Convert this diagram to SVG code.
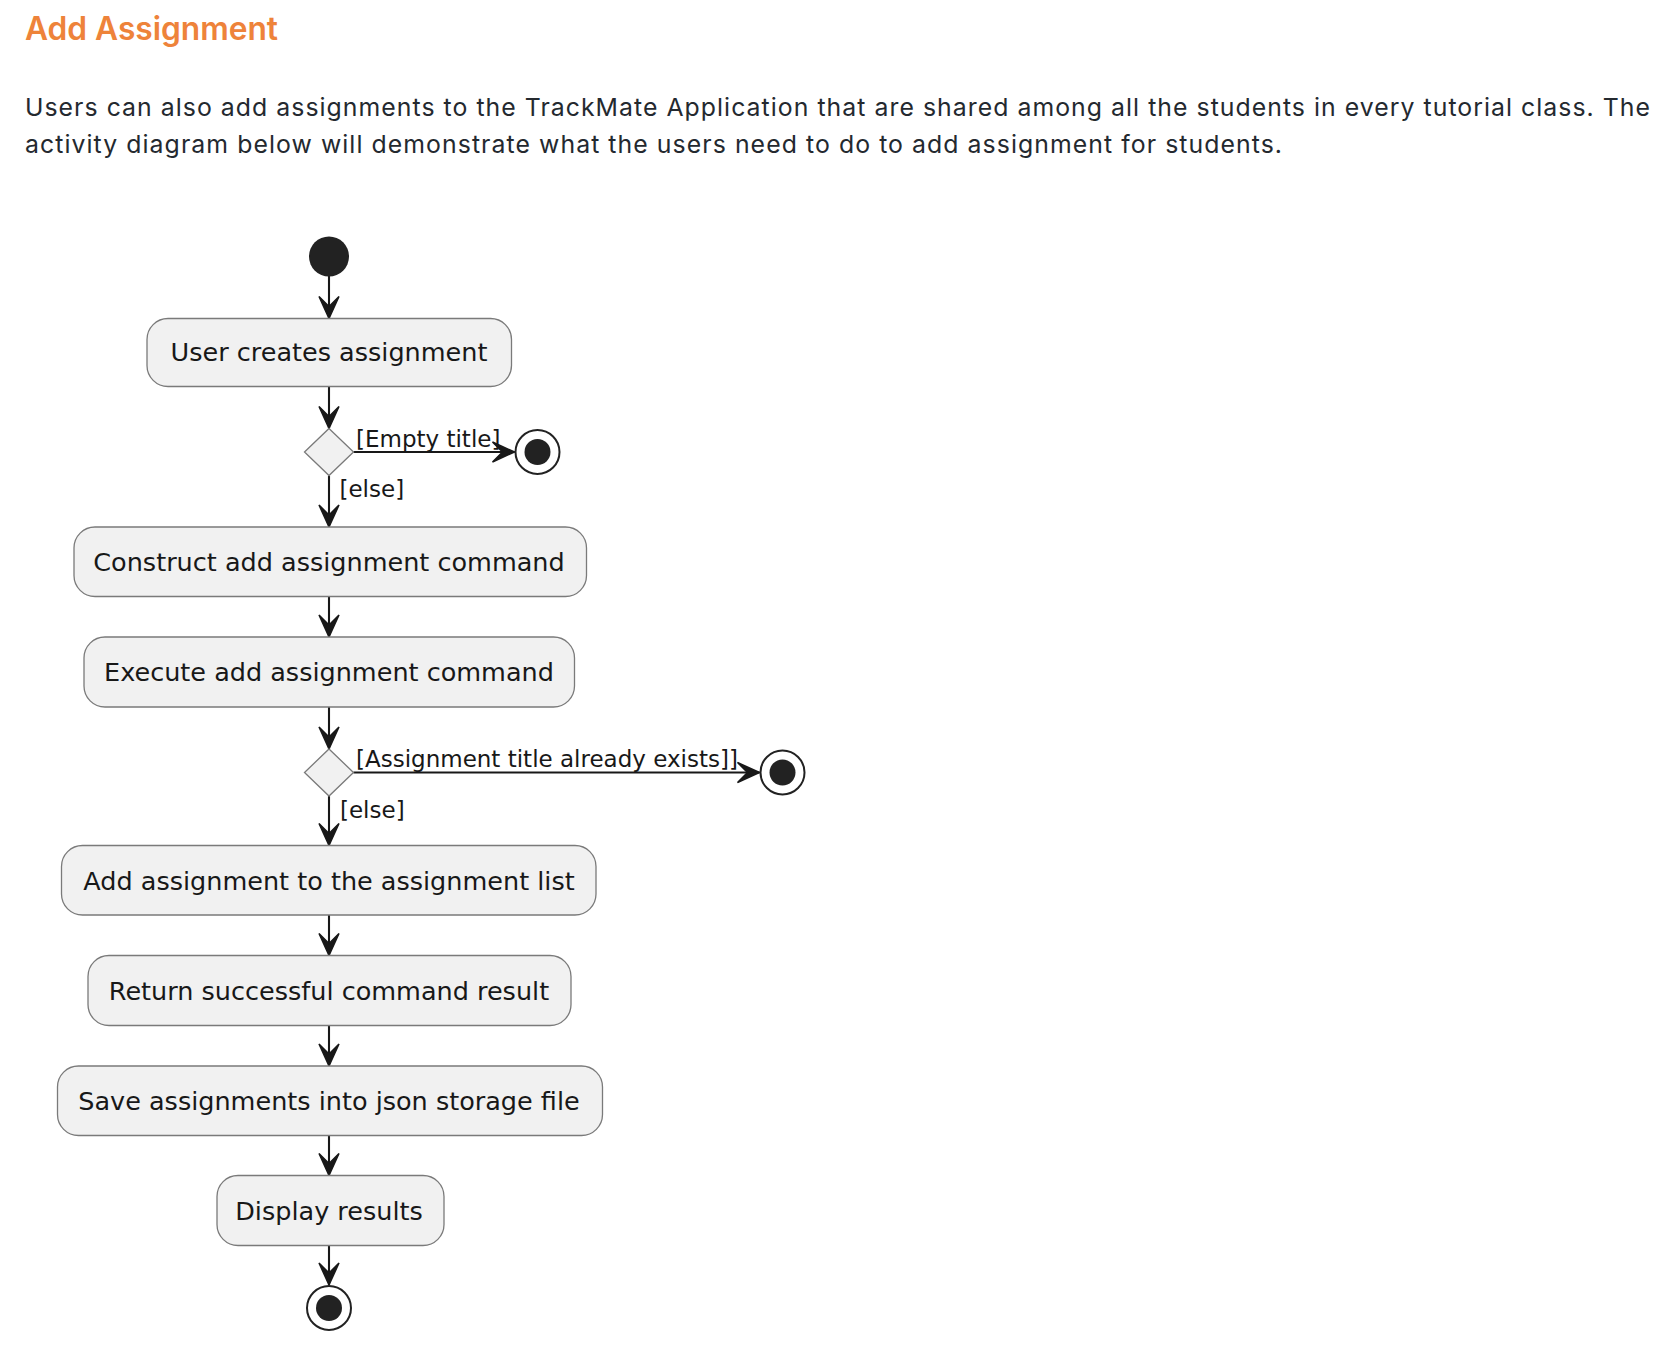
<svg xmlns="http://www.w3.org/2000/svg" width="1678" height="1352" viewBox="0 0 1678 1352">
<style>
.title{font-family:Inter,"Liberation Sans",sans-serif;font-weight:600;font-size:32px;fill:#EE833A}
.body{font-family:Inter,"Liberation Sans",sans-serif;font-size:24.8px;fill:#24292F}
.act{fill:#F1F1F1;stroke:#7A7A7A;stroke-width:1.3}
.atext{font-family:"DejaVu Sans",sans-serif;font-size:25.5px;fill:#181818;text-anchor:middle}
.lbl{font-family:"DejaVu Sans",sans-serif;font-size:23px;fill:#181818}
.line{stroke:#181818;stroke-width:2.1;fill:none}
.dia{fill:#F1F1F1;stroke:#7A7A7A;stroke-width:1.3}
</style>
<defs>
<marker id="ah" viewBox="-25 -13 28 26" markerWidth="28" markerHeight="26" refX="0" refY="0" orient="auto" markerUnits="userSpaceOnUse">
<polygon points="0,0 -22,-10 -12,0 -22,10" fill="#181818" stroke="#181818" stroke-width="1.5" stroke-linejoin="miter"/>
</marker>
</defs>
<rect width="1678" height="1352" fill="#FFFFFF"/>
<text class="title" x="25" y="40" textLength="253" lengthAdjust="spacingAndGlyphs">Add Assignment</text>
<text class="body" x="25" y="116" textLength="1625" lengthAdjust="spacing">Users can also add assignments to the TrackMate Application that are shared among all the students in every tutorial class. The</text>
<text class="body" x="25" y="153" textLength="1257" lengthAdjust="spacing">activity diagram below will demonstrate what the users need to do to add assignment for students.</text>

<g id="connectors">
<line class="line" x1="329" y1="276" x2="329" y2="318.5" marker-end="url(#ah)"/>
<line class="line" x1="329" y1="386.5" x2="329" y2="428.5" marker-end="url(#ah)"/>
<line class="line" x1="353.5" y1="452" x2="514.5" y2="452" marker-end="url(#ah)"/>
<text class="lbl" x="356" y="446.5">[Empty title]</text>
<line class="line" x1="329" y1="475.5" x2="329" y2="527" marker-end="url(#ah)"/>
<text class="lbl" x="339.5" y="497">[else]</text>
<line class="line" x1="329" y1="596.5" x2="329" y2="637" marker-end="url(#ah)"/>
<line class="line" x1="329" y1="707" x2="329" y2="749" marker-end="url(#ah)"/>
<line class="line" x1="353.5" y1="772.5" x2="759.5" y2="772.5" marker-end="url(#ah)"/>
<text class="lbl" x="356" y="767">[Assignment title already exists]]</text>
<line class="line" x1="329" y1="796" x2="329" y2="845.5" marker-end="url(#ah)"/>
<text class="lbl" x="340" y="818">[else]</text>
<line class="line" x1="329" y1="915" x2="329" y2="955.5" marker-end="url(#ah)"/>
<line class="line" x1="329" y1="1025.5" x2="329" y2="1066" marker-end="url(#ah)"/>
<line class="line" x1="329" y1="1135.5" x2="329" y2="1175.5" marker-end="url(#ah)"/>
<line class="line" x1="329" y1="1245.5" x2="329" y2="1285" marker-end="url(#ah)"/>
</g>

<g id="start"><circle cx="329" cy="256.5" r="20" fill="#222222"/></g>
<g id="a1"><rect class="act" x="147" y="318.5" width="364.5" height="68" rx="21"/><text class="atext" x="329" y="361">User creates assignment</text></g>
<g id="d1"><polygon class="dia" points="329,428.5 353.5,452 329,475.5 304.5,452"/></g>
<g id="end1"><circle cx="537.5" cy="452" r="22" fill="#FFFFFF" stroke="#222222" stroke-width="2"/><circle cx="537.5" cy="452" r="13" fill="#222222"/></g>
<g id="a2"><rect class="act" x="74" y="527" width="512.5" height="69.5" rx="21"/><text class="atext" x="329" y="571">Construct add assignment command</text></g>
<g id="a3"><rect class="act" x="84" y="637" width="490.5" height="70" rx="21"/><text class="atext" x="329" y="681">Execute add assignment command</text></g>
<g id="d2"><polygon class="dia" points="329,749 353.5,772.5 329,796 304.5,772.5"/></g>
<g id="end2"><circle cx="782.5" cy="772.5" r="22" fill="#FFFFFF" stroke="#222222" stroke-width="2"/><circle cx="782.5" cy="772.5" r="13" fill="#222222"/></g>
<g id="a4"><rect class="act" x="61.5" y="845.5" width="534.5" height="69.5" rx="21"/><text class="atext" x="329" y="889.5">Add assignment to the assignment list</text></g>
<g id="a5"><rect class="act" x="88" y="955.5" width="483" height="70" rx="21"/><text class="atext" x="329" y="1000">Return successful command result</text></g>
<g id="a6"><rect class="act" x="57.5" y="1066" width="545" height="69.5" rx="21"/><text class="atext" x="329" y="1110">Save assignments into json storage file</text></g>
<g id="a7"><rect class="act" x="217" y="1175.5" width="227" height="70" rx="21"/><text class="atext" x="329" y="1220">Display results</text></g>
<g id="end3"><circle cx="329" cy="1308" r="22" fill="#FFFFFF" stroke="#222222" stroke-width="2"/><circle cx="329" cy="1308" r="13" fill="#222222"/></g>
</svg>
